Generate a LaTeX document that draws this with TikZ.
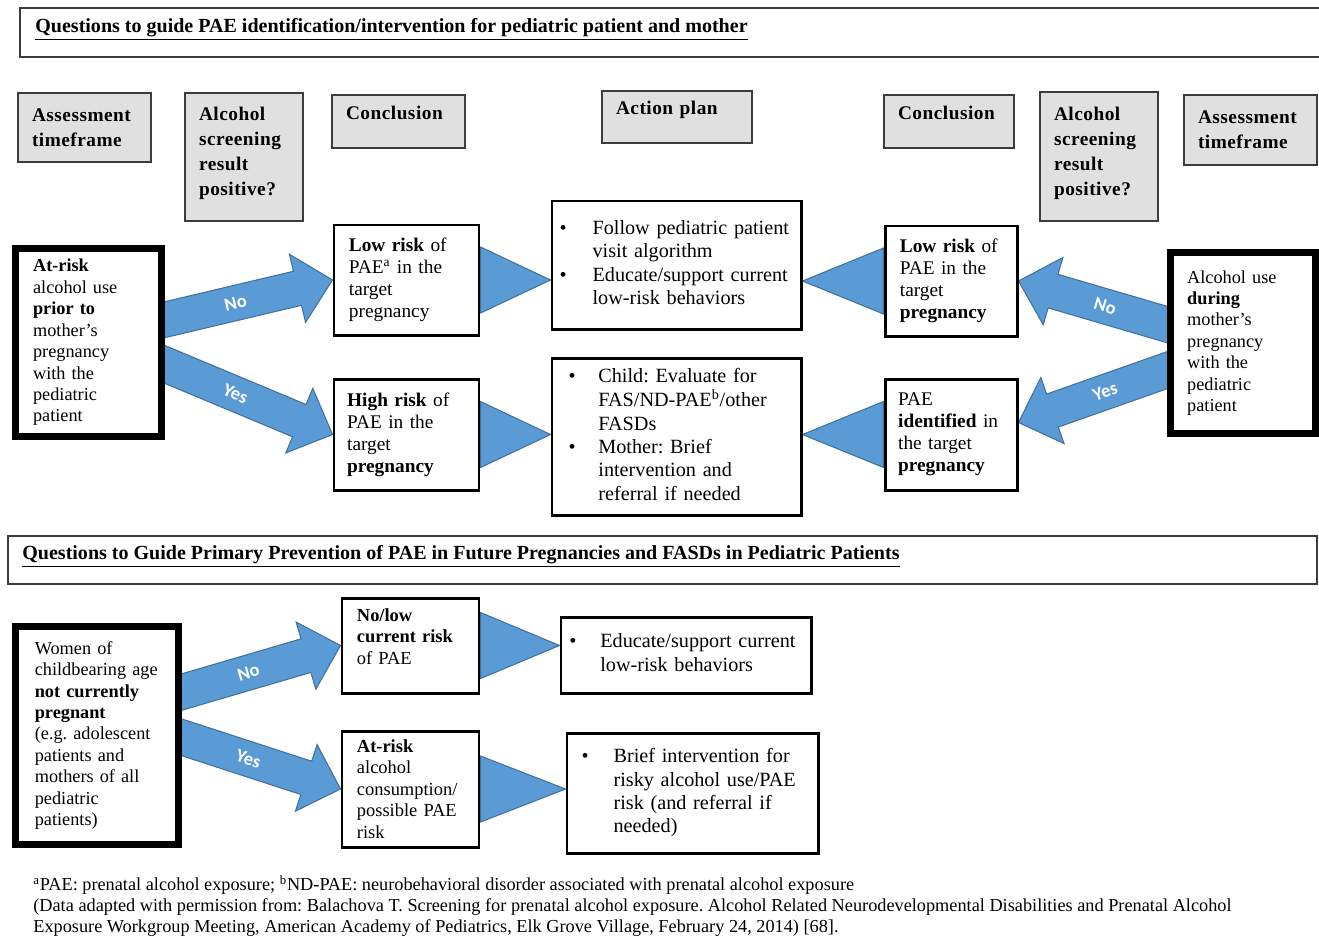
\documentclass[tikz,border=0pt]{standalone}
\usepackage{fontspec}
\setmainfont{Liberation Serif}
\newfontfamily\lblfont{Carlito}
\usepackage{tikz}
\usetikzlibrary{calc,backgrounds}
\definecolor{arrowfill}{HTML}{5B9BD5}
\definecolor{arrowline}{HTML}{41719C}
\definecolor{hdfill}{HTML}{E0E0E0}
\definecolor{hdline}{HTML}{3C3C3C}
\frenchspacing

\begin{document}
\begin{tikzpicture}[
  x=0.02cm, y=-0.02cm,
  sz/.style n args={3}{minimum width=#1*0.02cm, minimum height=#2*0.02cm,
    inner xsep=#3pt, text width=#1*0.02cm-2*#3pt, align=left},
  hdbox/.style={draw=hdline, fill=hdfill, line width=1.1pt,
    font=\fontsize{11}{14.2}\selectfont\bfseries\addfontfeatures{LetterSpace=2.5}},
  pbox/.style={draw, fill=white, line width=1.7pt},
  mainbox/.style={draw, fill=white, line width=4pt, font=\fontsize{10.4}{12.2}\selectfont},
  riskbox/.style={pbox, font=\fontsize{11}{12.5}\selectfont},
  actbox/.style={pbox, font=\fontsize{11.5}{13.3}\selectfont},
  smallbox/.style={pbox, font=\fontsize{10.5}{12.2}\selectfont},
  title/.style={anchor=base west, inner sep=0pt, font=\fontsize{11.4}{14}\selectfont\bfseries},
  bigarrow/.style={fill=arrowfill, draw=arrowline, line width=0.6pt},
  yesno/.style={font=\lblfont\bfseries\fontsize{10.5}{12}\selectfont, text=white, sloped, pos=0.46}
]
\useasboundingbox (0,0) rectangle (1319,937);

% frames of the two question bars
\draw[hdline, line width=0.85pt] (1319,8) -| (20,57) -- (1319,57);
\draw[hdline, line width=0.85pt] (8,536) rectangle (1317,584);
\node[title] (ttlA) at (35,32) {\underline{Questions to guide PAE identification/intervention for pediatric patient and mother}};
\node[title] (ttlB) at (22,559) {\underline{Questions to Guide Primary Prevention of PAE in Future Pregnancies and FASDs in Pediatric Patients}};

% column heads
\node[hdbox, sz={133}{69}{8}] (hdAssessL) at (84.5,127.5) {Assessment\\timeframe};
\node[hdbox, sz={118}{128}{8}, text depth=49pt] (hdScreenL) at (244,157) {Alcohol\\screening\\result\\positive?};
\node[hdbox, sz={133}{53}{8}, text depth=10pt] (hdConclL) at (398.5,121.5) {Conclusion};
\node[hdbox, sz={150}{52}{8}, text depth=10pt] (hdAction) at (677,117) {Action plan};
\node[hdbox, sz={130}{53}{8}, text depth=10pt] (hdConclR) at (949,121.5) {Conclusion};
\node[hdbox, sz={118}{129}{8}, text depth=49pt] (hdScreenR) at (1099,156.5) {Alcohol\\screening\\result\\positive?};
\node[hdbox, sz={133}{70}{8}] (hdAssessR) at (1250.5,130) {Assessment\\timeframe};

% upper flow
\node[mainbox, sz={146}{188}{10}] (atriskL) at (88.5,342.5) {\textbf{At-risk}\\alcohol use\\\textbf{prior to}\\mother’s\\pregnancy\\with the\\pediatric\\patient};
\node[riskbox, sz={145}{110}{8.5}] (lowL) at (406.5,280) {\textbf{Low risk} of\\PAE\textsuperscript{a} in the\\target\\pregnancy};
\node[riskbox, sz={145}{111}{7.5}] (highL) at (406.5,434.5) {\textbf{High risk} of\\PAE in the\\target\\\textbf{pregnancy}};
\node[actbox, sz={249}{128}{4.3}] (actTop) at (676.5,265) {\begin{tabular}{@{}p{18.8pt}@{}l@{}}\textbullet & Follow pediatric patient\\ & visit algorithm\\\textbullet & Educate/support current\\ & low-risk behaviors\end{tabular}};
\node[actbox, sz={249}{157}{9.4}] (actBot) at (676.5,436.5) {\begin{tabular}{@{}p{17pt}@{}l@{}}\textbullet & Child: Evaluate for\\ & FAS/ND-PAE\textsuperscript{b}/other\\ & FASDs\\\textbullet & Mother: Brief\\ & intervention and\\ & referral if needed\end{tabular}};
\node[riskbox, sz={132}{110}{8.5}] (lowR) at (951,281) {\textbf{Low risk} of\\PAE in the\\target\\\textbf{pregnancy}};
\node[riskbox, sz={132}{111}{7.5}] (paeR) at (951,434.5) {PAE\\\textbf{identified} in\\the target\\\textbf{pregnancy}};
\node[mainbox, sz={145}{181}{9.5}] (duringR) at (1243,343) {Alcohol use\\\textbf{during}\\mother’s\\pregnancy\\with the\\pediatric\\patient};

% lower flow
\node[mainbox, sz={163}{218}{11}] (womenL) at (97,735.5) {Women of\\childbearing age\\\textbf{not currently}\\\textbf{pregnant}\\(e.g. adolescent\\patients and\\mothers of all\\pediatric\\patients)};
\node[smallbox, sz={137}{95}{8.5}, text depth=35pt] (noLow) at (410.5,645.5) {\textbf{No/low}\\\textbf{current risk}\\of PAE};
\node[smallbox, sz={137}{116}{8.5}] (atRisk2) at (410.5,789) {\textbf{At-risk}\\alcohol\\consumption/\\possible PAE\\risk};
\node[actbox, sz={250}{76}{4.8}] (educ) at (686,655) {\begin{tabular}{@{}p{17.6pt}@{}l@{}}\textbullet & Educate/support current\\ & low-risk behaviors\end{tabular}};
\node[actbox, sz={251}{120}{8.3}] (brief) at (692.5,793) {\begin{tabular}{@{}p{18.2pt}@{}l@{}}\textbullet & Brief intervention for\\ & risky alcohol use/PAE\\ & risk (and referral if\\ & needed)\end{tabular}};

\node[anchor=north west, inner sep=0pt, align=left, font=\fontsize{10.4}{11.8}\selectfont] (fnote) at (33,875) {\textsuperscript{a}PAE: prenatal alcohol exposure; \textsuperscript{b}ND-PAE: neurobehavioral disorder associated with prenatal alcohol exposure\\(Data adapted with permission from: Balachova T. Screening for prenatal alcohol exposure. Alcohol Related Neurodevelopmental Disabilities and Prenatal Alcohol\\Exposure Workgroup Meeting, American Academy of Pediatrics, Elk Grove Village, February 24, 2014) [68].};

% arrow tails
\coordinate (tNoL) at ($(atriskL.east)+(-12,-20)$);
\coordinate (tYesL) at ($(atriskL.east)+(-12,17)$);
\coordinate (tNoR) at ($(duringR.west)+(12,-15)$);
\coordinate (tYesR) at ($(duringR.west)+(12,23)$);
\coordinate (hYesR) at ($(paeR.east)+(0,-12)$);
\coordinate (tNo2) at ($(womenL.east)+(-12,-40)$);
\coordinate (tYes2) at ($(womenL.east)+(-12,-2)$);

\begin{scope}[on background layer]
\foreach \t/\h/\lbl in {tNoL/lowL.west/No, tYesL/highL.west/Yes, tNoR/lowR.east/No, tYesR/hYesR/Yes, tNo2/noLow.west/No, tYes2/atRisk2.west/Yes}{
  \coordinate (nk) at ($(\h)!0.72cm!(\t)$);
  \filldraw[bigarrow] ($(\t)!0.35cm!90:(\h)$) -- ($(nk)!0.35cm!-90:(\t)$) -- ($(nk)!0.7cm!-90:(\t)$) -- (\h)
    -- ($(nk)!0.7cm!90:(\t)$) -- ($(nk)!0.35cm!90:(\t)$) -- ($(\t)!0.35cm!-90:(\h)$) -- cycle;
  \path (\t) -- (\h) node[yesno] {\lbl};
}
\foreach \a/\b in {lowL.east/actTop.west, highL.east/actBot.west, lowR.west/actTop.east, paeR.west/actBot.east, noLow.east/educ.west, atRisk2.east/brief.west}
  \filldraw[bigarrow] ($(\a)+(0,-33)$) -- (\a -| \b) -- ($(\a)+(0,33)$) -- cycle;
\end{scope}
\end{tikzpicture}
\end{document}
